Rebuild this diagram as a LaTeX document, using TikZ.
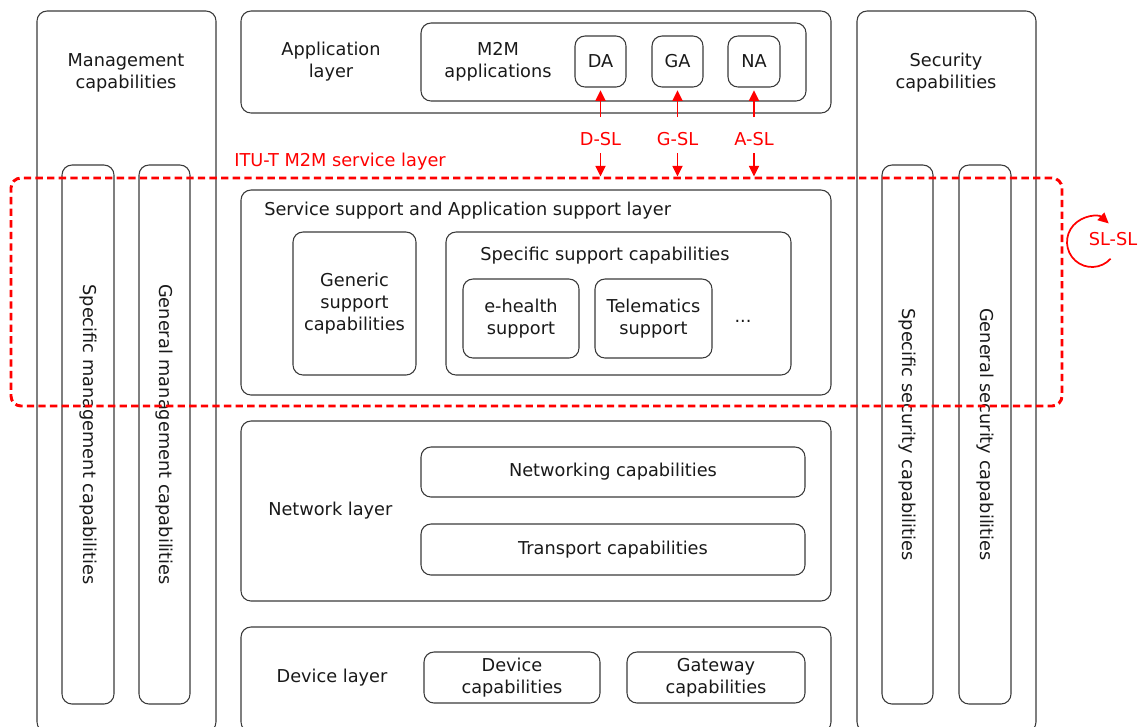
\documentclass[tikz,border=0pt]{standalone}
\usepackage{fontspec}
\setmainfont{DejaVu Sans}
\usetikzlibrary{fit,arrows.meta}
\definecolor{ln}{HTML}{3A3A3A}
\begin{document}
\begin{tikzpicture}[x=0.75pt,y=-0.75pt,
  font=\fontsize{13.3}{16.5}\selectfont,
  box/.style={draw=ln, line width=0.8pt, rounded corners=7.5pt, inner sep=0pt},
  txt/.style={align=center, text=black!90, inner sep=0pt},
  rtxt/.style={text=red, inner sep=0pt},
  dashbox/.style={draw=red, line width=2.2pt, dash pattern=on 5.5pt off 3.2pt, rounded corners=7.5pt, inner sep=0pt},
  sarr/.style={draw=red, line width=1.3pt, -{Triangle[length=8pt,width=7.5pt]}},
]
\useasboundingbox (0,0) rectangle (1143,726);
\begin{scope}
\clip (0,0) rectangle (1143,726);
% management
\node[box, fit={(37,11) (216,732)}] (mgmt) {};
\node[txt] (mgmtt) at (126,73) {Management\\capabilities};
\node[box, fit={(62,165) (114,704)}] (smc) {};
\node[box, fit={(139,165) (190,704)}] (gmc) {};
\node[txt, rotate=-90] at (smc.center) {Specific management capabilities};
\node[txt, rotate=-90] at (gmc.center) {General management capabilities};
% security
\node[box, fit={(857,11) (1036,732)}] (sec) {};
\node[txt] (sect) at (946,73) {Security\\capabilities};
\node[box, fit={(882,165) (933,704)}] (ssc) {};
\node[box, fit={(959,165) (1011,704)}] (gsc) {};
\node[txt, rotate=-90] at (ssc.center) {Specific security capabilities};
\node[txt, rotate=-90] at (gsc.center) {General security capabilities};
% application layer
\node[box, fit={(241,11) (831,113)}] (app) {};
\node[txt] (appt) at (331,62) {Application\\layer};
\node[box, fit={(421,23) (806,101)}] (m2m) {};
\node[txt] (m2mt) at (498,62) {M2M\\applications};
\node[box, fit={(575,36) (626,87)}] (da) {};
\node[txt] at (da.center) {DA};
\node[box, fit={(652,36) (703,87)}] (ga) {};
\node[txt] at (ga.center) {GA};
\node[box, fit={(728,36) (780,87)}] (na) {};
\node[txt] at (na.center) {NA};
% service support layer
\node[box, fit={(241,190) (831,395)}] (ssl) {};
\node[txt, anchor=west] (sslt) at (264,211) {Service support and Application support layer};
\node[box, fit={(293,232) (416,375)}] (gen) {};
\node[txt] at (gen.center) {Generic\\support\\capabilities};
\node[box, fit={(446,232) (791,375)}] (spec) {};
\node[txt] (spect) at (605,256) {Specific support capabilities};
\node[box, fit={(463,279) (579,358)}] (eh) {};
\node[txt] at (eh.center) {e-health\\support};
\node[box, fit={(595,279) (712,358)}] (tel) {};
\node[txt] at (tel.center) {Telematics\\support};
\node[txt] (dots) at (743,321) {...};
% network layer
\node[box, fit={(241,421) (831,601)}] (net) {};
\node[txt, anchor=west] (nett) at (268,511) {Network layer};
\node[box, fit={(421,447) (805,497)}] (netc) {};
\node[txt] at (netc.center) {Networking capabilities};
\node[box, fit={(421,524) (805,575)}] (trc) {};
\node[txt] at (trc.center) {Transport capabilities};
% device layer
\node[box, fit={(241,627) (831,732)}] (dev) {};
\node[txt] (devt) at (332,678) {Device layer};
\node[box, fit={(424,652) (600,703)}] (devc) {};
\node[txt] at (devc.center) {Device\\capabilities};
\node[box, fit={(627,652) (805,703)}] (gwc) {};
\node[txt] at (gwc.center) {Gateway\\capabilities};
% service layer (dashed)
\node[dashbox, fit={(11,178) (1062,406)}] (svc) {};
\node[rtxt, anchor=west] (svct) at (234,162) {ITU-T M2M service layer};
% reference points
\foreach \n/\a/\l in {dsl/da/D-SL, gsl/ga/G-SL, asl/na/A-SL}{
  \node[rtxt] (\n) at (\a.center |- 0,139) {\l};
  \coordinate (\n e) at (svc.north -| \a.center);
  \draw[sarr, shorten >=2pt] ([yshift=16.5pt]\n.center) -- (\a.south);
  \draw[sarr] ([yshift=-10.5pt]\n.center) -- (\n e);
}
% SL-SL
\coordinate (slc) at (1092,242);
\draw[sarr] ([shift={(42:25)}]slc) arc[start angle=42, end angle=312, radius=25];
\node[rtxt] (slsl) at (1113,239) {SL-SL};
\end{scope}
\end{tikzpicture}
\end{document}
